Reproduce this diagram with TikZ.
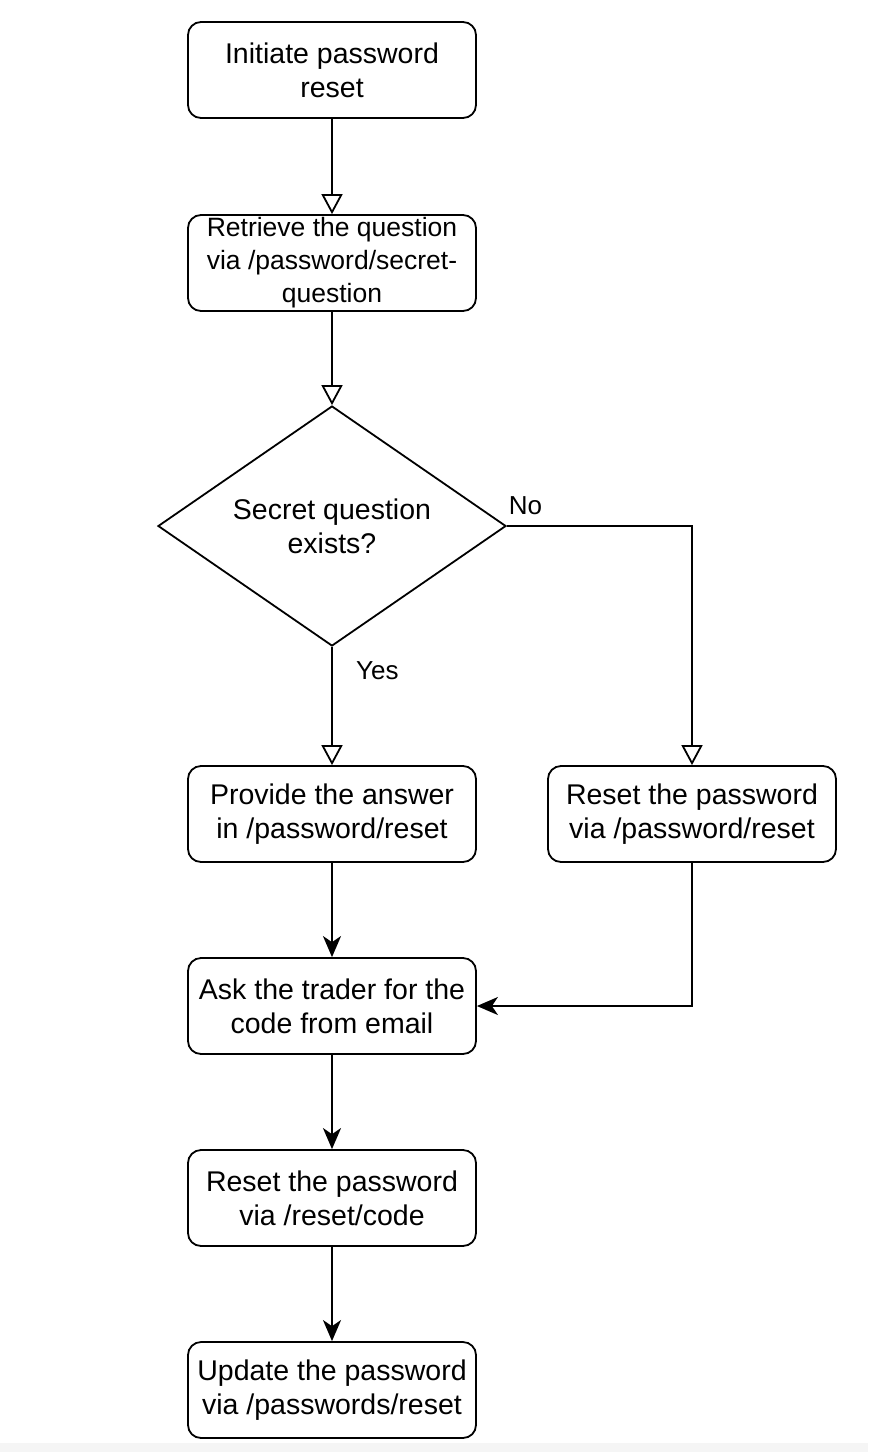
\documentclass[tikz,border=0pt]{standalone}
\usepackage{fontspec}
\setmainfont{Liberation Sans}
\usetikzlibrary{arrows.meta,shapes.geometric}
\begin{document}
\begin{tikzpicture}[x=1pt,y=-1pt,
  box/.style={draw, line width=1.8pt, rounded corners=13pt, minimum width=288pt, minimum height=96pt, align=center, font=\fontsize{28.5}{34}\selectfont, inner sep=0pt},
  dec/.style={draw, line width=1.8pt, diamond, aspect=1.45, minimum width=348pt, minimum height=240pt, inner sep=0pt, align=center, font=\fontsize{28.5}{34}\selectfont},
  conn/.style={line width=1.8pt},
  openarr/.style={conn, -{Triangle[open, length=20pt, width=21pt]}},
  fillarr/.style={conn, -{Stealth[length=21pt, width=18pt, inset=6pt]}},
  lbl/.style={font=\fontsize{26}{30}\selectfont}
]
\fill[white] (0,0) rectangle (868,1452);
\fill[black!4] (0,1443) rectangle (868,1452);
\useasboundingbox (0,0) rectangle (868,1452);

\node[box] (init) at (332,70) {Initiate password\\reset};
\node[box, font=\fontsize{26.5}{33}\selectfont] (retr) at (332,263) {Retrieve the question\\via /password/secret-\\question};
\node[dec] (q) at (332,526) {Secret question\\exists?};
\node[box] (prov) at (332,814) {Provide the answer\\in /password/reset};
\node[box] (rpw) at (692,814) {Reset the password\\via /password/reset};
\node[box] (ask) at (332,1006) {Ask the trader for the\\code from email};
\node[box] (rcode) at (332,1198) {Reset the password\\via /reset/code};
\node[box] (upd) at (332,1390) {Update the password\\via /passwords/reset};

\draw[openarr] (init) -- (retr);
\draw[openarr] (retr) -- (q);
\draw[openarr] (q.south) -- node[lbl, pos=0.2, right=20pt] {Yes} (prov);
\draw[openarr] (q.east) -- node[lbl, pos=0.1, above=7pt] {No} (rpw.north |- q.east) -- (rpw);
\draw[fillarr] (prov) -- (ask);
\draw[fillarr] (rpw.south) |- (ask.east);
\draw[fillarr] (ask) -- (rcode);
\draw[fillarr] (rcode) -- (upd);
\end{tikzpicture}
\end{document}
